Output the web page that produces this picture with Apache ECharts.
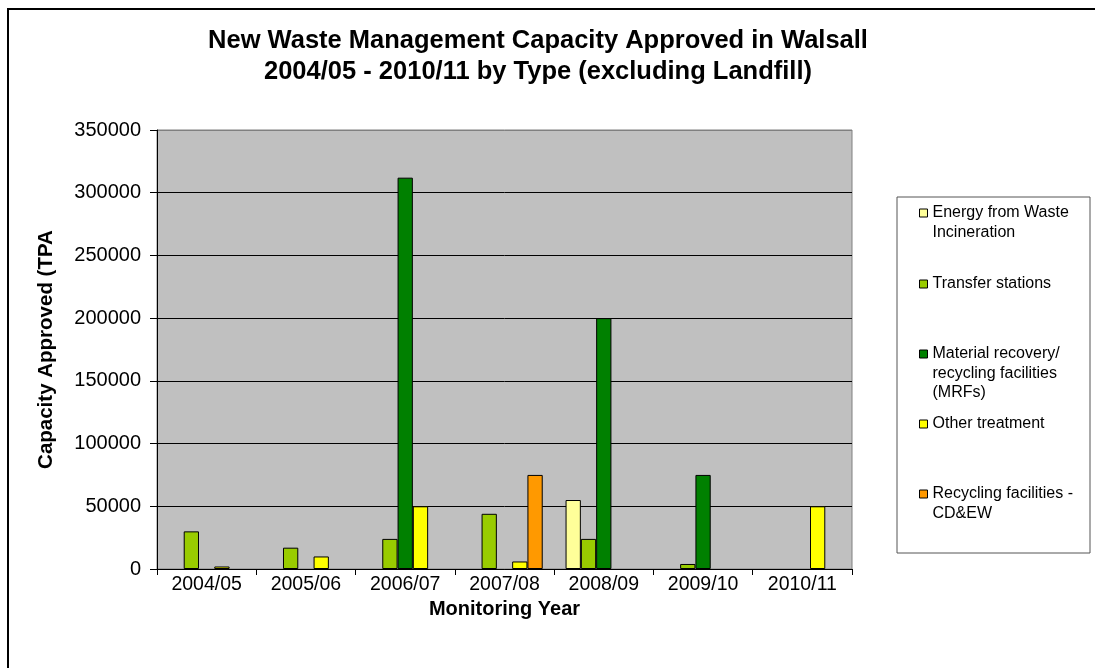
<!DOCTYPE html>
<html>
<head>
<meta charset="utf-8">
<script src="https://cdn.jsdelivr.net/npm/echarts@6/dist/echarts.min.js"></script>
<style>
  html, body { margin: 0; padding: 0; background: #ffffff; }
  #chart { width: 1095px; height: 668px; }
</style>
</head>
<body>
<div id="chart"></div>
<script>
// Monitoring years on the category axis
const years = ['2004/05', '2005/06', '2006/07', '2007/08', '2008/09', '2009/10', '2010/11'];

// Approved capacity (tonnes per annum) by facility type
const energyFromWaste = [null, null, null, null, 55000, null, null];
const transferStations = [30000, 17000, 24000, 44000, 24000, 4000, null];
const materialRecovery = [null, null, 312000, null, 200000, 75000, null];
const otherTreatment = [2000, 10000, 50000, 6000, null, null, 50000];
const recyclingCDEW = [null, null, null, 75000, null, null, null];

// Series names and their wrapped legend labels
const seriesNames = [
  'Energy from Waste Incineration',
  'Transfer stations',
  'Material recovery/ recycling facilities (MRFs)',
  'Other treatment',
  'Recycling facilities - CD&EW'
];
const legendLabels = [
  'Energy from Waste\nIncineration',
  'Transfer stations',
  'Material recovery/\nrecycling facilities\n(MRFs)',
  'Other treatment',
  'Recycling facilities -\nCD&EW'
];

// Value axis ticks
const yMin = 0;
const yMax = 350000;
const yStep = 50000;

const seriesValues = [energyFromWaste, transferStations, materialRecovery, otherTreatment, recyclingCDEW];
const seriesColors = ['#FFFF99', '#99CC00', '#008000', '#FFFF00', '#FF9900'];

const FONT = '"Liberation Sans", Arial, sans-serif';
const LINE_H = 19.5;
// vertical centre of each legend marker
const legendMarkerY = [213, 284, 354, 424, 494];

// One legend per entry so each marker sits beside the first line of its label.
// Leading blank lines keep the marker level with that first line.
const legends = seriesNames.map((name, i) => {
  const lines = legendLabels[i].split('\n').length;
  const label = '\n'.repeat(lines - 1) + legendLabels[i];
  return {
    data: [name],
    left: 919,
    top: legendMarkerY[i] - (2 * lines - 1) * LINE_H / 2,
    orient: 'vertical',
    padding: 0,
    icon: 'rect',
    itemWidth: 8,
    itemHeight: 8,
    selectedMode: false,
    itemStyle: { borderColor: '#000000', borderWidth: 1 },
    formatter: () => label,
    textStyle: {
      fontFamily: FONT,
      fontSize: 16,
      color: '#000000',
      lineHeight: LINE_H
    }
  };
});

const gridLineColors = [];
for (let v = yMin; v <= yMax; v += yStep) {
  gridLineColors.push(v === yMax ? '#808080' : '#000000');
}

const option = {
  animation: false,
  backgroundColor: '#ffffff',
  title: {
    text: 'New Waste Management Capacity Approved in Walsall\n2004/05 - 2010/11 by Type (excluding Landfill)',
    left: 533,
    top: 20,
    textAlign: 'center',
    textStyle: {
      fontFamily: FONT,
      fontSize: 25.5,
      fontWeight: 'bold',
      color: '#000000',
      lineHeight: 31
    }
  },
  legend: legends,
  grid: {
    left: 157,
    right: 243,
    top: 130,
    bottom: 99,
    show: true,
    backgroundColor: '#C0C0C0',
    borderColor: '#808080',
    borderWidth: 1
  },
  xAxis: {
    type: 'category',
    data: years,
    name: 'Monitoring Year',
    nameLocation: 'middle',
    nameGap: 30,
    nameTextStyle: { fontFamily: FONT, fontSize: 20, fontWeight: 'bold', color: '#000000' },
    axisLine: { lineStyle: { color: '#000000', width: 1 } },
    axisTick: { show: true, length: 6, lineStyle: { color: '#000000' } },
    axisLabel: { fontFamily: FONT, fontSize: 19.5, color: '#000000', margin: 6 },
    splitLine: { show: false }
  },
  yAxis: {
    type: 'value',
    min: yMin,
    max: yMax,
    interval: yStep,
    name: 'Capacity Approved (TPA',
    nameLocation: 'middle',
    nameGap: 100,
    nameTextStyle: { fontFamily: FONT, fontSize: 20.5, fontWeight: 'bold', color: '#000000' },
    axisLine: { show: true, lineStyle: { color: '#000000', width: 1 } },
    axisTick: { show: true, length: 7, lineStyle: { color: '#000000' } },
    axisLabel: {
      fontFamily: FONT,
      fontSize: 20,
      color: '#000000',
      margin: 16,
      formatter: (v) => String(v)
    },
    splitLine: { show: true, lineStyle: { color: gridLineColors, width: 1 } }
  },
  series: seriesNames.map((name, i) => ({
    name: name,
    type: 'bar',
    data: seriesValues[i],
    barGap: '0%',
    barCategoryGap: '23%',
    itemStyle: { color: seriesColors[i], borderColor: '#000000', borderWidth: 1 },
    emphasis: { disabled: true }
  })),
  graphic: [
    {
      // outer chart frame
      type: 'rect',
      shape: { x: 8, y: 9, width: 1120, height: 720 },
      style: { fill: null, stroke: '#000000', lineWidth: 2 },
      silent: true,
      z: 100
    },
    {
      // legend frame
      type: 'rect',
      shape: { x: 897, y: 197, width: 193, height: 356 },
      style: { fill: null, stroke: '#555555', lineWidth: 1 },
      silent: true,
      z: 100
    }
  ]
};

const chart = echarts.init(document.getElementById('chart'), null, { renderer: 'canvas' });
chart.setOption(option);
</script>
</body>
</html>
